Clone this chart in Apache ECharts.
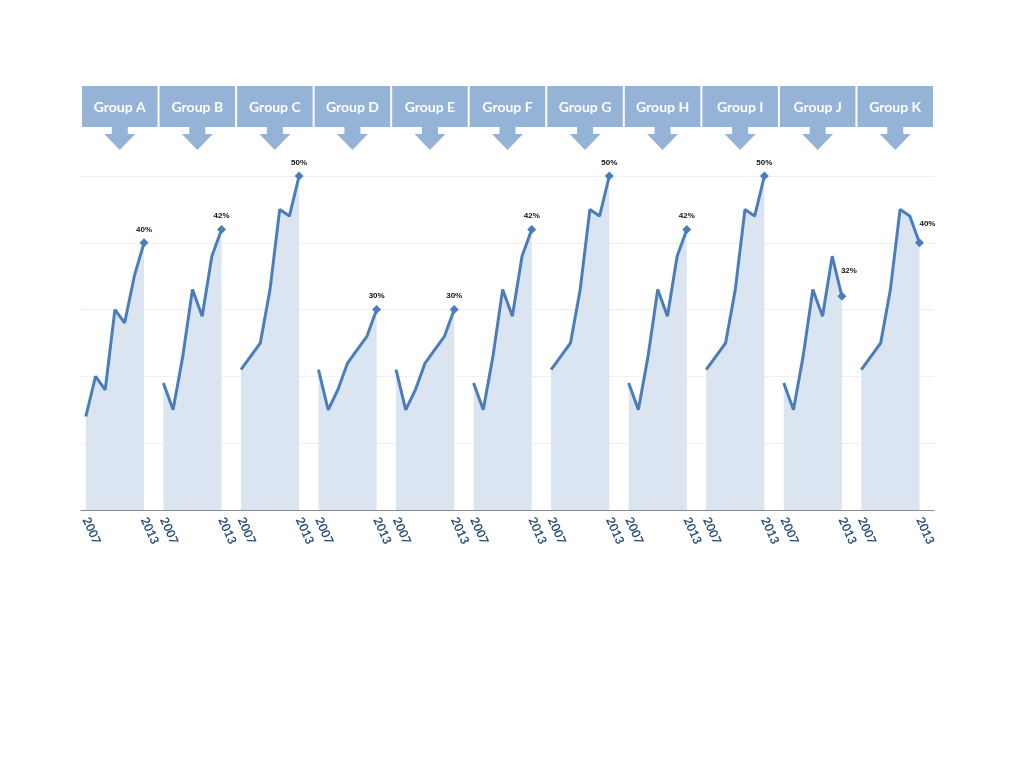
<!DOCTYPE html>
<html>
<head>
<meta charset="utf-8">
<script src="https://cdn.jsdelivr.net/npm/echarts@6/dist/echarts.min.js"></script>
<style>
  html, body { margin: 0; padding: 0; background: #ffffff; }
  #chart { width: 1024px; height: 768px; }
</style>
</head>
<body>
<div id="chart"></div>
<script>
// ---- data ----
const groups = ['Group A','Group B','Group C','Group D','Group E','Group F','Group G','Group H','Group I','Group J','Group K'];
const years = ['2007','2008','2009','2010','2011','2012','2013'];
const tickYears = ['2007','2013'];
const groupA = [14, 20, 18, 30, 28, 35, 40];
const groupB = [19, 15, 23, 33, 29, 38, 42];
const groupC = [21, 23, 25, 33, 45, 44, 50];
const groupD = [21, 15, 18, 22, 24, 26, 30];
const groupE = [21, 15, 18, 22, 24, 26, 30];
const groupF = [19, 15, 23, 33, 29, 38, 42];
const groupG = [21, 23, 25, 33, 45, 44, 50];
const groupH = [19, 15, 23, 33, 29, 38, 42];
const groupI = [21, 23, 25, 33, 45, 44, 50];
const groupJ = [19, 15, 23, 33, 29, 38, 32];
const groupK = [21, 23, 25, 33, 45, 44, 40];
const values = [groupA, groupB, groupC, groupD, groupE, groupF, groupG, groupH, groupI, groupJ, groupK];

// ---- styling ----
const lineColor = '#4a7ebb';
const areaColor = '#dbe5f1';
const headColor = '#95b3d7';
const labelOffsets = [[0,0],[0,0],[0,0],[0,0],[0,0],[0,0],[0,0],[0,0],[0,0],[7,-12],[8,-6]];

const slotsPerGroup = years.length + 1;
const categories = [];
groups.forEach(g => {
  years.forEach(y => categories.push(g + '|' + y));
  categories.push(g + '|');
});

const lineSeries = values.map((vals, gi) => ({
  type: 'line',
  name: groups[gi],
  xAxisIndex: 0,
  yAxisIndex: 0,
  showSymbol: true,
  symbol: 'none',
  lineStyle: { color: lineColor, width: 3 },
  itemStyle: { color: lineColor },
  areaStyle: { color: areaColor, opacity: 1 },
  emphasis: { disabled: true },
  animation: false,
  z: 3,
  data: vals.map((v, i) => {
    const item = { value: [gi * slotsPerGroup + i, v] };
    if (i === vals.length - 1) {
      item.symbol = 'diamond';
      item.symbolSize = 9;
      item.label = {
        show: true,
        position: 'top',
        distance: 5,
        offset: labelOffsets[gi],
        formatter: p => p.value[1] + '%',
        fontFamily: 'Liberation Sans, Arial, sans-serif',
        fontWeight: 'bold',
        fontSize: 8,
        color: '#111'
      };
    }
    return item;
  })
}));

const headerSeries = {
  type: 'custom',
  xAxisIndex: 1,
  yAxisIndex: 1,
  animation: false,
  silent: true,
  data: groups.map((g, i) => [i, 1]),
  renderItem: function (params, api) {
    const i = api.value(0);
    const top = api.coord([i, 1]);
    const bot = api.coord([i, 0]);
    const bw = api.size([1, 0])[0];
    const cx = top[0];
    const y0 = top[1], y1 = bot[1];
    const shaftW = 16, shaftH = 7, headW = 31, headH = 16;
    return {
      type: 'group',
      children: [
        { type: 'rect', shape: { x: cx - bw / 2 + 1, y: y0, width: bw - 2, height: y1 - y0 }, style: { fill: headColor } },
        { type: 'polygon', shape: { points: [
            [cx - shaftW / 2, y1], [cx + shaftW / 2, y1], [cx + shaftW / 2, y1 + shaftH],
            [cx + headW / 2, y1 + shaftH], [cx, y1 + shaftH + headH], [cx - headW / 2, y1 + shaftH],
            [cx - shaftW / 2, y1 + shaftH]
          ] }, style: { fill: headColor } },
        { type: 'text', style: { text: groups[i], x: cx, y: (y0 + y1) / 2 + 1, align: 'center', verticalAlign: 'middle',
            fill: '#ffffff', font: 'bold 14px Lato, "Open Sans", sans-serif' } }
      ]
    };
  }
};

const chart = echarts.init(document.getElementById('chart'), null, { renderer: 'canvas' });
chart.setOption({
  backgroundColor: '#ffffff',
  animation: false,
  grid: [
    { left: 81, right: 90, top: 176, bottom: 258 },
    { left: 81, right: 90, top: 86, height: 41 }
  ],
  xAxis: [
    {
      type: 'category',
      gridIndex: 0,
      data: categories,
      boundaryGap: true,
      axisLine: { show: true, lineStyle: { color: '#8a8a8a', width: 1.2 } },
      axisTick: { show: false },
      splitLine: { show: false },
      axisLabel: {
        interval: 0,
        rotate: -66,
        margin: 8,
        color: '#2a4e7a',
        fontFamily: 'Lato, "Open Sans", sans-serif',
        fontWeight: 'bold',
        fontSize: 12,
        formatter: v => {
          const y = v.split('|')[1];
          return tickYears.indexOf(y) >= 0 ? y : '';
        }
      }
    },
    {
      type: 'category',
      gridIndex: 1,
      data: groups,
      show: false
    }
  ],
  yAxis: [
    {
      type: 'value',
      gridIndex: 0,
      min: 0,
      max: 50,
      interval: 10,
      axisLabel: { show: false },
      axisLine: { show: false },
      axisTick: { show: false },
      splitLine: { show: true, lineStyle: { color: '#efefef', width: 1 } }
    },
    {
      type: 'value',
      gridIndex: 1,
      min: 0,
      max: 1,
      show: false
    }
  ],
  series: lineSeries.concat([headerSeries])
});
</script>
</body>
</html>
